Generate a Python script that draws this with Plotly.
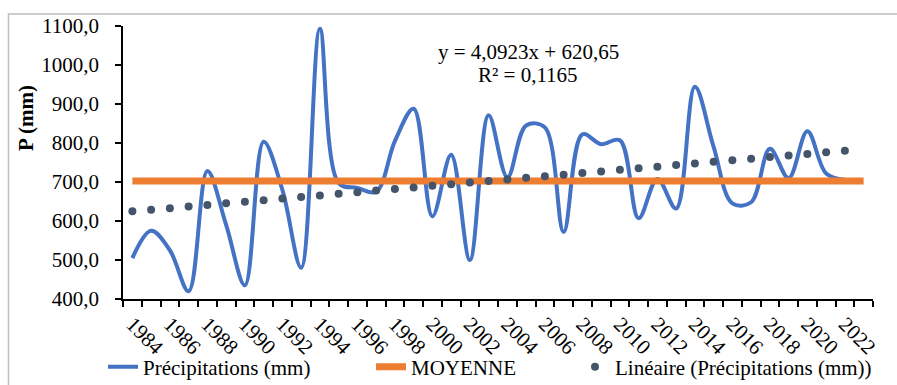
import plotly.graph_objects as go

# ---------------- data ----------------
years = list(range(1984, 2024))  # 40 categories (1984-2023)
precip_years = list(range(1984, 2023))  # 39 measured years
precip = [505, 575, 525, 420, 728, 590, 435, 803, 680, 480,
          1093, 697, 685, 675, 805, 888, 612, 770, 500, 871,
          712, 845, 840, 572, 822, 797, 807, 607, 708, 632,
          944, 790, 645, 648, 785, 710, 830, 722, 706]
mean_value = 702.5
moyenne = [mean_value] * len(years)
trend_slope = 4.0923
trend_intercept = 620.65
trend_x = list(range(1, len(precip_years) + 1))
trend = [trend_slope * k + trend_intercept for k in trend_x]
tick_years = years[0:40:2]  # 1984 ... 2022

BLUE = "#4472C4"
ORANGE = "#ED7D31"
DOTS = "#44546A"
FONT = "Liberation Serif"

fig = go.Figure()
fig.add_trace(go.Scatter(
    x=precip_years, y=precip, mode="lines", name="Précipitations (mm)",
    line=dict(color=BLUE, width=4, shape="spline", smoothing=1.0),
    legendwidth=223))
fig.add_trace(go.Scatter(
    x=years, y=moyenne, mode="lines", name="MOYENNE",
    line=dict(color=ORANGE, width=7), legendwidth=159))
fig.add_trace(go.Scatter(
    x=precip_years, y=trend, mode="markers", name="Linéaire (Précipitations (mm))",
    marker=dict(color=DOTS, size=8, line=dict(width=0))))

W, H = 897, 385
L, R, T, B = 123, 24, 26, 86
pw, ph = W - L - R, H - T - B

def px_x(px):
    return (px - L) / pw

def px_y(py):
    return (H - B - py) / ph

fig.update_layout(
    width=W, height=H,
    margin=dict(l=L, r=R, t=T, b=B, autoexpand=False),
    paper_bgcolor="white", plot_bgcolor="white",
    font=dict(family=FONT, size=21, color="black"),
    separators=", ",
    showlegend=True,
    legend=dict(orientation="h", x=px_x(103), y=px_y(367), xanchor="left", yanchor="middle",
                font=dict(family=FONT, size=21, color="black"),
                bgcolor="rgba(0,0,0,0)", itemwidth=30, tracegroupgap=0),
    xaxis=dict(range=[1983.5, 2023.5], tickmode="array", tickvals=tick_years,
               tickformat="d", tickangle=45, ticks="", showgrid=False,
               zeroline=False, showline=True, linecolor="black", linewidth=1.5,
               automargin=False, ticklabelstandoff=3,
               tickfont=dict(family=FONT, size=21, color="black"),
               minor=dict(tickmode="linear", tick0=1983.5, dtick=1, ticks="outside",
                          ticklen=6, tickwidth=1.5, tickcolor="black", showgrid=False)),
    yaxis=dict(range=[400, 1100], dtick=100, tick0=400, tickformat=".1f",
               ticks="outside", ticklen=6, tickwidth=1.5, tickcolor="black",
               showgrid=False, zeroline=False, showline=True, linecolor="black",
               linewidth=1.5, automargin=False, ticklabelstandoff=12,
               tickfont=dict(family=FONT, size=21, color="black")),
)

fig.add_annotation(x=px_x(528), y=px_y(52), xref="paper", yref="paper",
                   xanchor="center", yanchor="middle",
                   text="y = 4,0923x + 620,65", showarrow=False,
                   font=dict(family=FONT, size=21, color="black"))
fig.add_annotation(x=px_x(528), y=px_y(75), xref="paper", yref="paper",
                   xanchor="center", yanchor="middle",
                   text="R² = 0,1165", showarrow=False,
                   font=dict(family=FONT, size=21, color="black"))
fig.add_annotation(x=px_x(26), y=px_y(118), xref="paper", yref="paper",
                   xanchor="center", yanchor="middle",
                   text="<b>P (mm)</b>", textangle=-90, showarrow=False,
                   font=dict(family=FONT, size=21, color="black"))

# chart-area border
fig.add_shape(type="rect", xref="paper", yref="paper",
              x0=px_x(8.5), x1=px_x(905), y0=px_y(395), y1=px_y(14),
              line=dict(color="#BFBFBF", width=1.5), layer="below")

fig.write_html("out.html", config={"displayModeBar": False},
               post_script="document.body.style.margin='0';document.body.style.overflow='hidden';")
